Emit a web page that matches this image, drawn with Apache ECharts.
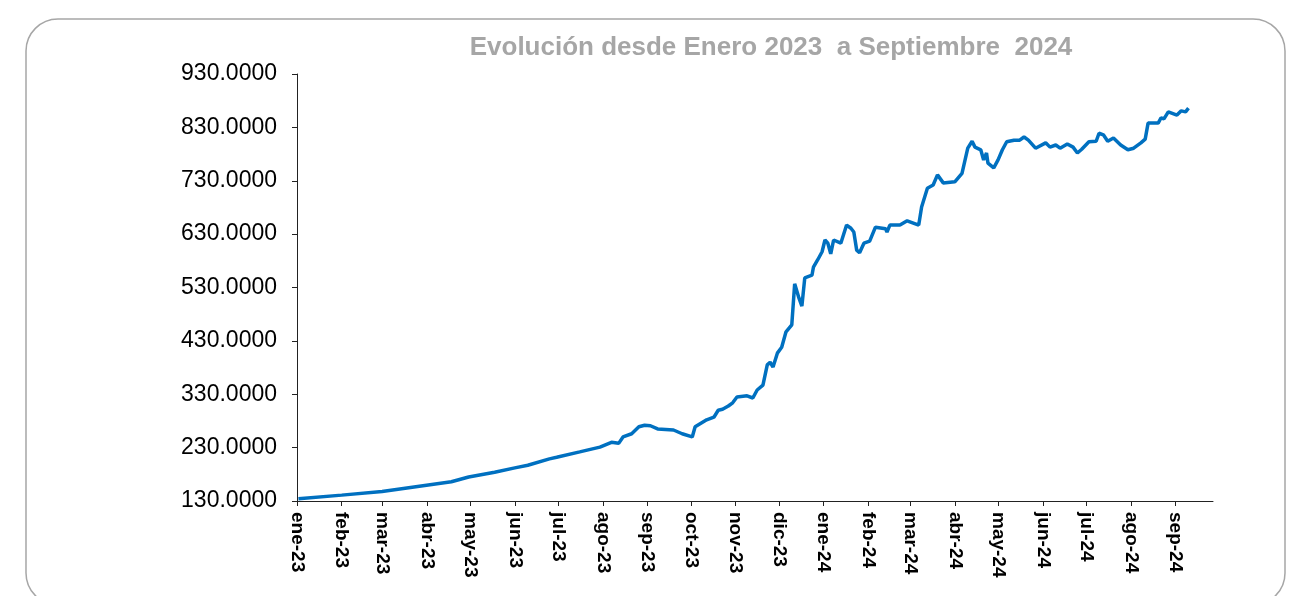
<!DOCTYPE html>
<html>
<head>
<meta charset="utf-8">
<script src="https://cdn.jsdelivr.net/npm/echarts@6/dist/echarts.min.js"></script>
<style>
  html, body { margin: 0; padding: 0; background: #fff; }
  #root { width: 1293px; height: 596px; }
</style>
</head>
<body>
<div id="root"></div>
<script>
// fechas y valores
var dates = [
  '2023-01-02', '2023-02-01', '2023-03-01', '2023-04-02', '2023-04-18', '2023-04-30',
  '2023-05-18', '2023-06-01', '2023-06-10', '2023-06-25', '2023-06-30', '2023-07-16',
  '2023-07-30', '2023-08-07', '2023-08-12', '2023-08-15', '2023-08-21', '2023-08-26',
  '2023-08-30', '2023-09-03', '2023-09-08', '2023-09-19', '2023-09-25', '2023-10-02',
  '2023-10-04', '2023-10-12', '2023-10-17', '2023-10-20', '2023-10-23', '2023-10-27',
  '2023-10-30', '2023-11-02', '2023-11-09', '2023-11-13', '2023-11-16', '2023-11-20',
  '2023-11-23', '2023-11-25', '2023-11-27', '2023-11-30', '2023-12-03', '2023-12-06',
  '2023-12-10', '2023-12-12', '2023-12-15', '2023-12-17', '2023-12-19', '2023-12-24',
  '2023-12-25', '2023-12-28', '2023-12-31', '2024-01-02', '2024-01-04', '2024-01-06',
  '2024-01-08', '2024-01-13', '2024-01-17', '2024-01-20', '2024-01-22', '2024-01-24',
  '2024-01-26', '2024-01-29', '2024-02-02', '2024-02-06', '2024-02-13', '2024-02-14',
  '2024-02-16', '2024-02-23', '2024-02-28', '2024-03-07', '2024-03-09', '2024-03-13',
  '2024-03-17', '2024-03-20', '2024-03-24', '2024-04-01', '2024-04-06', '2024-04-10',
  '2024-04-13', '2024-04-15', '2024-04-19', '2024-04-21', '2024-04-23', '2024-04-24',
  '2024-04-28', '2024-05-01', '2024-05-04', '2024-05-07', '2024-05-12', '2024-05-16',
  '2024-05-19', '2024-05-22', '2024-05-27', '2024-06-03', '2024-06-06', '2024-06-10',
  '2024-06-13', '2024-06-18', '2024-06-22', '2024-06-25', '2024-06-28', '2024-07-03',
  '2024-07-08', '2024-07-10', '2024-07-13', '2024-07-16', '2024-07-20', '2024-07-25',
  '2024-07-30', '2024-08-03', '2024-08-08', '2024-08-11', '2024-08-13', '2024-08-20',
  '2024-08-22', '2024-08-24', '2024-08-27', '2024-09-02', '2024-09-05', '2024-09-08',
  '2024-09-10'
];
var values = [
  134, 141, 148, 160, 166, 175,
  184, 192, 197, 209, 212, 222,
  231, 240, 238, 250, 256, 269,
  272, 271, 265, 263, 256, 250,
  269, 282, 287, 300, 302, 308,
  314, 325, 327, 323, 338, 347,
  385, 390, 381, 407, 418, 447,
  460, 537, 510, 495, 548, 553,
  568, 582, 597, 619, 613, 593,
  619, 613, 647, 641, 634, 600,
  595, 613, 617, 643, 640, 634,
  647, 647, 655, 647, 681, 716,
  722, 741, 726, 728, 744, 791,
  804, 793, 788, 769, 782, 763,
  754, 769, 788, 803, 806, 806,
  812, 806, 791, 801, 793, 797,
  791, 799, 793, 782, 789, 803,
  804, 819, 816, 804, 810, 797,
  788, 791, 801, 808, 838, 838,
  848, 846, 859, 853, 861, 859,
  866
];

// etiquetas de meses del eje x
var monthLabels = [
  'ene-23', 'feb-23', 'mar-23', 'abr-23', 'may-23', 'jun-23', 'jul-23',
  'ago-23', 'sep-23', 'oct-23', 'nov-23', 'dic-23', 'ene-24', 'feb-24',
  'mar-24', 'abr-24', 'may-24', 'jun-24', 'jul-24', 'ago-24', 'sep-24'
];
var monthStarts = [
  '2023-01-01', '2023-02-01', '2023-03-01', '2023-04-01', '2023-05-01', '2023-06-01', '2023-07-01',
  '2023-08-01', '2023-09-01', '2023-10-01', '2023-11-01', '2023-12-01', '2024-01-01', '2024-02-01',
  '2024-03-01', '2024-04-01', '2024-05-01', '2024-06-01', '2024-07-01', '2024-08-01', '2024-09-01'
];
var xEnd = '2024-09-27';
var yTicks = [130, 230, 330, 430, 530, 630, 730, 830, 930];

var base = Date.parse('2023-01-01');
function dayOf(s) {
  return Math.round((Date.parse(s) - base) / 86400000);
}
var tickDays = monthStarts.map(dayOf);
var labelByDay = {};
tickDays.forEach(function(d, i) {
  labelByDay[d] = monthLabels[i];
});
var seriesData = dates.map(function(d, i) {
  return [dayOf(d), values[i]];
});

var font = 'Arial, "Liberation Sans", sans-serif';

var option = {
  animation: false,
  backgroundColor: '#fff',
  // marco redondeado
  graphic: [{
    type: 'rect',
    shape: { x: 26, y: 19, width: 1259, height: 586, r: 32 },
    style: { fill: 'none', stroke: '#a6a6a6', lineWidth: 1.5 },
    z: -1
  }],
  title: {
    text: 'Evolución desde Enero 2023  a Septiembre  2024',
    left: 766,
    top: 30,
    textAlign: 'center',
    textStyle: {
      color: '#a6a6a6',
      fontSize: 26,
      fontWeight: 'bold',
      fontFamily: font
    }
  },
  grid: {
    left: 297,
    right: 80,
    top: 74,
    bottom: 95,
    containLabel: false
  },
  xAxis: {
    type: 'value',
    min: 0,
    max: dayOf(xEnd),
    splitLine: { show: false },
    axisLine: { show: true, lineStyle: { color: '#222', width: 1 } },
    axisTick: {
      show: true,
      length: 5,
      customValues: tickDays,
      lineStyle: { color: '#222' }
    },
    axisLabel: {
      customValues: tickDays,
      rotate: -90,
      margin: 11,
      color: '#000',
      fontSize: 19,
      fontWeight: 'bold',
      fontFamily: font,
      formatter: function(v) {
        return labelByDay[Math.round(v)] || '';
      }
    }
  },
  yAxis: {
    type: 'value',
    min: yTicks[0],
    max: yTicks[yTicks.length - 1],
    interval: 100,
    splitLine: { show: false },
    axisLine: { show: true, lineStyle: { color: '#222', width: 1 } },
    axisTick: { show: true, length: 5, lineStyle: { color: '#222' } },
    axisLabel: {
      margin: 20,
      color: '#000',
      fontSize: 23,
      fontFamily: font,
      formatter: function(v) {
        return v.toFixed(4);
      }
    }
  },
  series: [{
    type: 'line',
    data: seriesData,
    showSymbol: false,
    symbol: 'none',
    lineStyle: { color: '#0070c0', width: 3.5 },
    itemStyle: { color: '#0070c0' }
  }]
};

var myChart = echarts.init(document.getElementById('root'));
myChart.setOption(option);
</script>
</body>
</html>
